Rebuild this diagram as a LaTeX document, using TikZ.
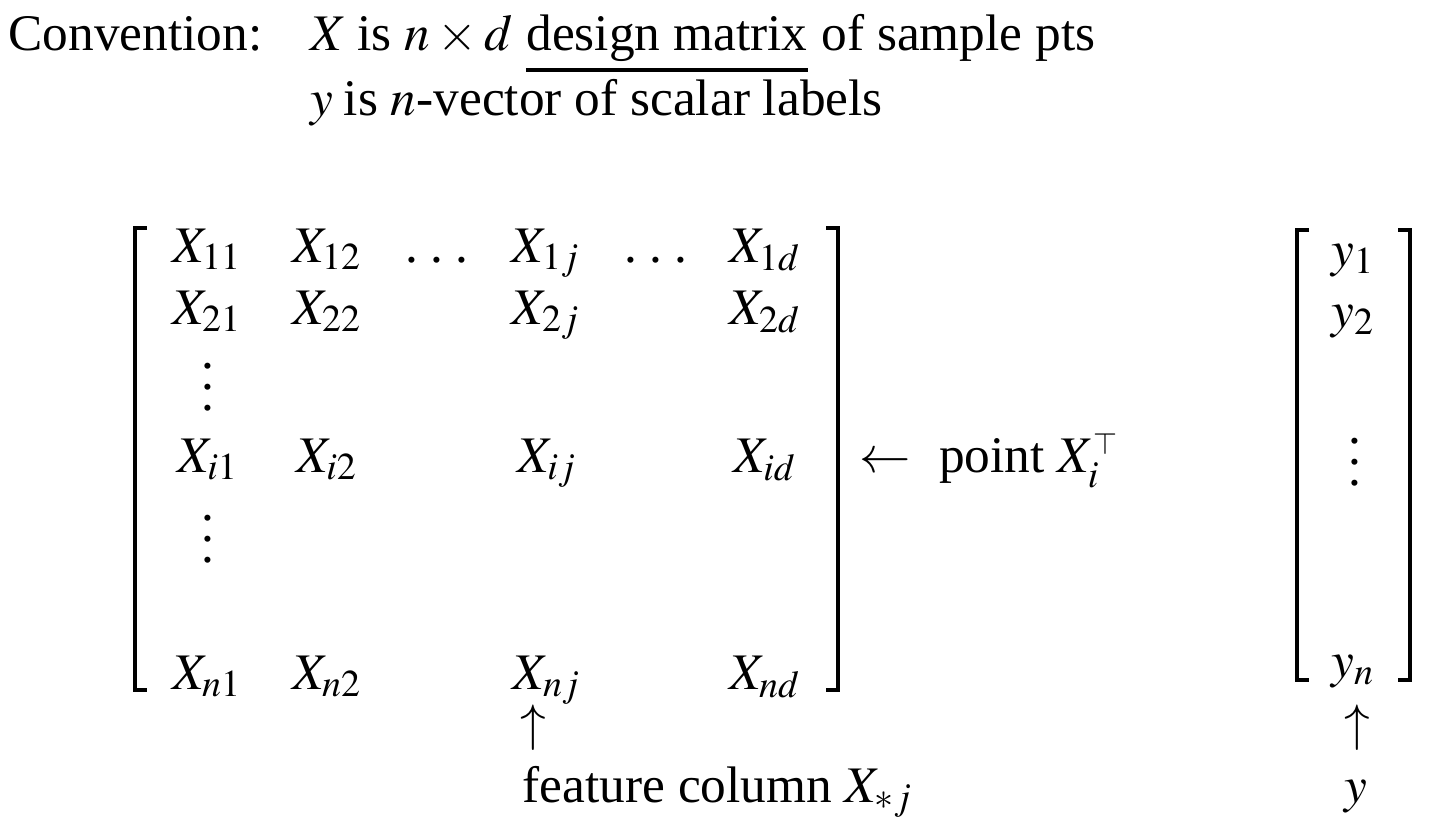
\documentclass[tikz,border=0pt]{standalone}
\usepackage{amsmath}
\usepackage{mathptmx}
\usepackage{fontspec}
\setmainfont{Liberation Serif}
\usetikzlibrary{positioning}

\tikzset{txt/.style={inner sep=0pt,font=\fontsize{14.6}{18}\selectfont},
  ent/.style={txt,anchor=base},
  brk/.style={line width=0.9pt}}
\newcommand{\hdts}{.\hspace{0.24em}.\hspace{0.24em}.}
\newcommand{\vdts}{\vbox{\baselineskip=0.4em\lineskiplimit=0pt\hbox{.}\hbox{.}\hbox{.}}}

\begin{document}
\begin{tikzpicture}[x=0.01cm,y=-0.01cm]

  \useasboundingbox (0,0) rectangle (1430,832);

  % heading
  \node[txt,anchor=base west] (conv) at (8,50) {Convention:};
  \node[txt,anchor=base west] (lnx) at (310,50) {$X$\hspace{-0.05em} is $n\times d$};
  \node[txt,base right=3.6pt of lnx] (dm) {design matrix};
  \node[txt,base right=3.6pt of dm] (lnxb) {of sample pts};
  \draw [brk] ([yshift=-0.2cm]dm.base west) -- ([yshift=-0.2cm]dm.base east);
  \node[txt,anchor=base west] (lny) at (310,115) {$y$\hspace{-0.05em} is $n$-vector of scalar labels};

  % design matrix
  \draw [brk] (147,228) -- (135,228) -- (135,690) -- (147,690);
  \draw [brk] (826,228) -- (838,228) -- (838,690) -- (826,690);

  \node[ent] (x11) at (207,262) {$X_{11}$};
  \node[ent] (x12) at (327,262) {$X_{12}$};
  \node[ent] (hd1) at (437,262) {\hdts};
  \node[ent] (x1j) at (546,262) {$X_{1j}$};
  \node[ent] (hd2) at (656,262) {\hdts};
  \node[ent] (x1d) at (765,262) {$X_{1d}$};

  \node[ent] (x21) at (207,324) {$X_{21}$};
  \node[ent] (x22) at (327,324) {$X_{22}$};
  \node[ent] (x2j) at (546,324) {$X_{2j}$};
  \node[ent] (x2d) at (765,324) {$X_{2d}$};

  \node[ent] (vd1) at (208,410) {\vdts};

  \node[ent] (xi1) at (208,472) {$X_{i1}$};
  \node[ent] (xi2) at (327,472) {$X_{i2}$};
  \node[ent] (xij) at (547,472) {$X_{ij}$};
  \node[ent] (xid) at (765,472) {$X_{id}$};

  \node[ent] (vd2) at (208,562) {\vdts};

  \node[ent] (xn1) at (207,689) {$X_{n1}$};
  \node[ent] (xn2) at (327,689) {$X_{n2}$};
  \node[ent] (xnj) at (547,689) {$X_{nj}$};
  \node[ent] (xnd) at (765,689) {$X_{nd}$};

  \node[txt,anchor=base west] (pt) at (859,472)
    {$\leftarrow$\hspace{0.55em}point $X_i^{\raisebox{-0.12em}{$\scriptscriptstyle\top$}}$};

  % label vector
  \draw [brk] (1309,230) -- (1297,230) -- (1297,680) -- (1309,680);
  \draw [brk] (1398,230) -- (1410,230) -- (1410,680) -- (1398,680);

  \node[ent] (y1) at (1353,266) {$y_1$};
  \node[ent] (y2) at (1353,327) {$y_2$};
  \node[ent] (yvd) at (1355,485) {\vdts};
  \node[ent] (yn) at (1353,677) {$y_n$};

  % captions
  \node[ent] (upx) at (533,740) {$\uparrow$};
  \node[ent] (upy) at (1357,740) {$\uparrow$};
  \node[txt,anchor=base west] (feat) at (522,802) {feature column $X_{*j}$};
  \node[ent] (ylab) at (1356,802) {$y$};

\end{tikzpicture}
\end{document}
